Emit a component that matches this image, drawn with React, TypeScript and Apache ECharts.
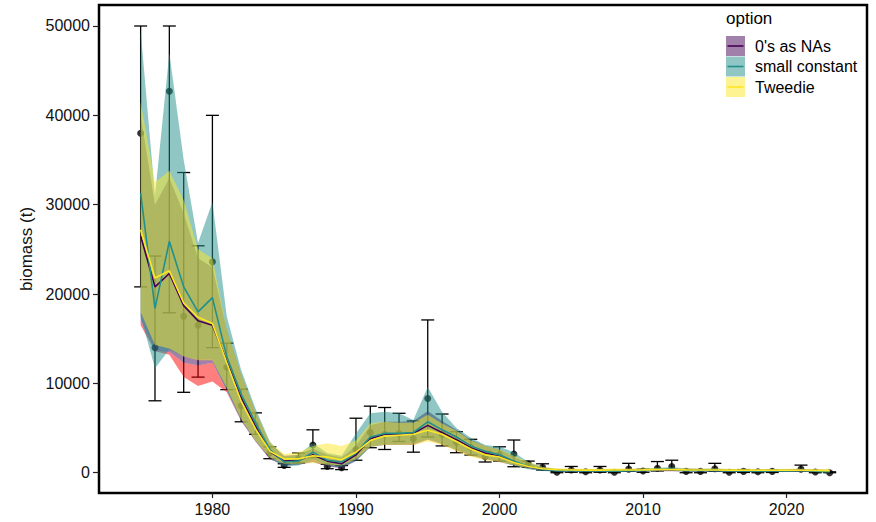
import { useEffect, useRef } from "react";
import * as echarts from "echarts";

const years = [
  1975, 1976, 1977, 1978, 1979, 1980, 1981, 1982, 1983, 1984, 1985, 1986, 1987, 1988, 1989,
  1990, 1991, 1992, 1993, 1994, 1995, 1996, 1997, 1998, 1999, 2000, 2001, 2002, 2003, 2004,
  2005, 2006, 2007, 2008, 2009, 2010, 2011, 2012, 2013, 2014, 2015, 2016, 2017, 2018, 2019,
  2020, 2021, 2022, 2023,
];

// observed survey biomass and its error bars
const observed = [
  38000, 14000, 42700, 17500, 16500, 23600, 11800, 7500, 5400, 2200, 800, 1600, 3100, 700, 550,
  2600, 4500, 4300, 4400, 3800, 8300, 4300, 3400, 2850, 1800, 2000, 2100, 1000, 600, 50,
  300, 100, 300, 50, 400, 200, 500, 700, 150, 150, 450, 50, 150, 100, 150,
  null, 400, 80, 0,
];
const observedLo = [
  20800, 8050, 17900, 9000, 10700, 14000, 9300, 5700, 4300, 1570, 600, 1100, 1700, 450, 350,
  1400, 2800, 2600, 3500, 2300, 4000, 3000, 2240, 1980, 1200, 1300, 670, 600, 300, 0,
  50, 0, 50, 0, 150, 50, 200, 300, 0, 0, 150, 0, 30, 0, 30,
  null, 200, 0, 0,
];
const observedHi = [
  50000, 24250, 50000, 33600, 25400, 40000, 14500, 9350, 6700, 2900, 1000, 2200, 4800, 950, 800,
  6100, 7450, 7300, 6650, 5800, 17100, 6570, 4590, 3740, 2400, 2900, 3660, 1300, 1000, 150,
  700, 250, 700, 150, 1050, 400, 1250, 1400, 300, 300, 1050, 200, 350, 250, 300,
  null, 850, 200, 100,
];

// option: 0's as NAs
const naMid = [
  26500, 20800, 22300, 18700, 17000, 16500, 12500, 8400, 5200, 2400, 1300, 1400, 2000, 1300, 1000,
  2000, 3800, 4300, 4300, 4400, 5300, 4500, 3700, 2800, 2200, 1850, 1200, 650, 400, 260,
  240, 220, 220, 220, 250, 260, 300, 320, 270, 260, 260, 230, 220, 210, 210,
  220, 230, 200, 170,
];
const naLo = [
  17000, 13600, 13500, 12300, 12000, 12300, 9200, 5800, 3500, 1500, 800, 900, 1200, 700, 500,
  1300, 2900, 3100, 3100, 3100, 3700, 3200, 2500, 1900, 1500, 1200, 800, 450, 250, 130,
  120, 100, 100, 100, 120, 130, 160, 170, 130, 120, 120, 100, 90, 80, 80,
  90, 100, 80, 60,
];
const naHi = [
  40000, 30000, 33000, 29000, 24000, 23000, 16000, 11000, 6800, 3300, 1900, 2000, 2700, 2000, 1700,
  3000, 5300, 5700, 5700, 5800, 6900, 5800, 4800, 3700, 3000, 2600, 1800, 1100, 600, 420,
  400, 380, 380, 380, 420, 430, 480, 500, 440, 430, 430, 390, 380, 370, 370,
  390, 400, 370, 340,
];

// option: small constant
const scMid = [
  31300, 18400, 25900, 20800, 18000, 19600, 13000, 8800, 5600, 2600, 1200, 1300, 2300, 1400, 1200,
  2200, 4000, 4400, 4400, 4500, 5700, 4800, 4000, 3000, 2400, 2000, 1300, 700, 400, 220,
  220, 200, 200, 180, 230, 250, 330, 380, 260, 250, 260, 200, 190, 180, 190,
  200, 240, 170, 120,
];
const scLo = [
  17500, 11700, 13800, 13000, 12700, 12700, 9300, 6000, 3700, 1700, 700, 800, 1500, 800, 600,
  1300, 2900, 3200, 3200, 3300, 3800, 3300, 2600, 2000, 1600, 1300, 800, 400, 200, 100,
  100, 80, 80, 70, 110, 120, 180, 210, 120, 110, 120, 80, 70, 60, 70,
  80, 110, 60, 30,
];
const scHi = [
  49500, 31000, 47000, 35000, 25700, 30300, 17500, 11500, 7200, 3500, 1800, 2000, 3300, 2200, 1900,
  4400, 6650, 6830, 6650, 5900, 9600, 6800, 5000, 3900, 3100, 2900, 2300, 1200, 650, 400,
  400, 380, 380, 360, 420, 450, 560, 620, 460, 450, 460, 380, 370, 360, 370,
  380, 440, 350, 300,
];

// option: Tweedie
const twMid = [
  27200, 21800, 22600, 19000, 17400, 16700, 12300, 8000, 4900, 2400, 1550, 1550, 1900, 1750, 1450,
  2300, 3600, 4100, 4200, 4300, 4750, 4300, 3500, 2650, 2000, 1750, 1150, 700, 450, 330,
  300, 290, 290, 300, 310, 320, 340, 340, 320, 310, 310, 290, 280, 270, 270,
  270, 270, 250, 230,
];
const twLo = [
  18000, 14300, 13900, 13000, 12600, 12600, 9500, 6000, 3600, 1700, 1000, 1000, 1100, 900, 800,
  1500, 2900, 3100, 3100, 3100, 3500, 3100, 2400, 1800, 1400, 1200, 850, 500, 300, 200,
  180, 170, 170, 180, 190, 200, 210, 210, 200, 190, 190, 170, 160, 150, 150,
  150, 150, 130, 110,
];
const twHi = [
  41500, 32500, 33800, 30500, 25000, 24000, 16000, 11000, 6800, 3400, 2100, 2300, 3000, 3300, 3000,
  3600, 5500, 5700, 5600, 5600, 6500, 5500, 4700, 3600, 3000, 2600, 1900, 1200, 650, 500,
  470, 450, 450, 460, 480, 490, 520, 520, 490, 480, 480, 450, 440, 430, 430,
  440, 440, 420, 400,
];

// extra red ribbon visible under the lower edge in the early years
const redLo = [
  16500, 13600, 13200, 10700, 9700, 10200, 9000, 5800, 3500, 1500, 800, 900, 1200, 700, 500,
  1300, 2900, 3100, 3100, 3100, 3700, 3200, 2500, 1900, 1500, 1200, 800, 450, 250, 130,
  120, 100, 100, 100, 120, 130, 160, 170, 130, 120, 120, 100, 90, 80, 80,
  90, 100, 80, 60,
];

const yTicks = [0, 10000, 20000, 30000, 40000, 50000];
const xTicks = [1980, 1990, 2000, 2010, 2020];
const legendTitle = "option";
const legendLabels = ["0's as NAs", "small constant", "Tweedie"];
const lineColors = ["#440154", "#21908C", "#FDE725"];
const fillColors = ["rgba(68,1,84,0.5)", "rgba(33,144,140,0.5)", "rgba(253,231,37,0.5)"];

const FONT = "'Liberation Sans', Arial, Helvetica, sans-serif";

function bandSeries(name: string, lo: number[], hi: number[], fill: string) {
  return {
    type: "custom",
    name,
    z: 2,
    silent: true,
    data: years.map((y, i) => [y, lo[i], hi[i]]),
    encode: { x: 0, y: [1, 2] },
    renderItem: (params: any, api: any) => {
      if (params.dataIndex !== 0) return null;
      const top = years.map((y, i) => api.coord([y, hi[i]]));
      const bot = years.map((y, i) => api.coord([y, lo[i]])).reverse();
      return {
        type: "polygon",
        shape: { points: top.concat(bot) },
        style: { fill, stroke: "none" },
      };
    },
  };
}

function lineSeries(name: string, vals: number[], color: string) {
  return {
    type: "line",
    name,
    z: 4,
    silent: true,
    symbol: "none",
    data: years.map((y, i) => [y, vals[i]]),
    lineStyle: { color, width: 1.6 },
  };
}

export default function App() {
  const ref = useRef<HTMLDivElement>(null);

  useEffect(() => {
    document.body.style.margin = "0";
    if (!ref.current) return;
    const chart = echarts.init(ref.current, undefined, { renderer: "svg" });

    const errData: number[][] = [];
    const ptData: number[][] = [];
    years.forEach((y, i) => {
      if (observed[i] === null) return;
      errData.push([y, observedLo[i] as number, observedHi[i] as number]);
      ptData.push([y, observed[i] as number]);
    });

    const legendGraphics: any[] = [
      {
        type: "text",
        x: 726,
        y: 10,
        style: { text: legendTitle, fontSize: 17, fontFamily: FONT, fill: "#000" },
      },
    ];
    legendLabels.forEach((lab, i) => {
      const top = 36 + i * 20.5;
      legendGraphics.push(
        {
          type: "rect",
          shape: { x: 726, y: top, width: 19, height: 20 },
          style: { fill: fillColors[i], stroke: "none" },
        },
        {
          type: "line",
          shape: { x1: 727.5, y1: top + 10, x2: 743.5, y2: top + 10 },
          style: { stroke: lineColors[i], lineWidth: 1.6 },
        },
        {
          type: "text",
          x: 755,
          y: top + 10,
          style: {
            text: lab,
            fontSize: 16,
            fontFamily: FONT,
            fill: "#000",
            verticalAlign: "middle",
          },
        }
      );
    });

    const option: any = {
      animation: false,
      grid: {
        left: 99,
        top: 5,
        right: 9,
        bottom: 29,
        show: true,
        borderColor: "#000",
        borderWidth: 2.5,
        backgroundColor: "#fff",
      },
      xAxis: {
        type: "value",
        min: 1972.1,
        max: 2025.6,
        splitLine: { show: false },
        axisLine: { show: false, onZero: false },
        axisTick: {
          show: true,
          customValues: xTicks,
          length: 5,
          lineStyle: { color: "#222", width: 1.2 },
        },
        axisLabel: {
          customValues: xTicks,
          formatter: (v: number) => String(v),
          fontSize: 16,
          fontFamily: FONT,
          color: "#111",
          margin: 8,
        },
      },
      yAxis: {
        type: "value",
        min: -2270,
        max: 52350,
        name: "biomass (t)",
        nameLocation: "middle",
        nameGap: 64,
        nameTextStyle: { fontSize: 17, fontFamily: FONT, color: "#111" },
        splitLine: { show: false },
        axisLine: { show: false, onZero: false },
        axisTick: {
          show: true,
          customValues: yTicks,
          length: 6,
          lineStyle: { color: "#222", width: 1.2 },
        },
        axisLabel: {
          customValues: yTicks,
          formatter: (v: number) => String(v),
          fontSize: 16,
          fontFamily: FONT,
          color: "#111",
          margin: 9,
        },
      },
      graphic: legendGraphics,
      series: [
        {
          type: "custom",
          name: "errorbars",
          z: 1,
          silent: true,
          data: errData,
          encode: { x: 0, y: [1, 2] },
          renderItem: (params: any, api: any) => {
            const x = api.value(0);
            const pLo = api.coord([x, api.value(1)]);
            const pHi = api.coord([x, api.value(2)]);
            const hw = 6.5;
            const st = { stroke: "#000", lineWidth: 1.3 };
            return {
              type: "group",
              children: [
                { type: "line", shape: { x1: pLo[0], y1: pLo[1], x2: pHi[0], y2: pHi[1] }, style: st },
                { type: "line", shape: { x1: pHi[0] - hw, y1: pHi[1], x2: pHi[0] + hw, y2: pHi[1] }, style: st },
                { type: "line", shape: { x1: pLo[0] - hw, y1: pLo[1], x2: pLo[0] + hw, y2: pLo[1] }, style: st },
              ],
            };
          },
        },
        {
          type: "scatter",
          name: "observed",
          z: 1,
          silent: true,
          symbol: "circle",
          symbolSize: 7,
          itemStyle: { color: "#000" },
          data: ptData,
        },
        bandSeries("red", redLo, naLo, "rgba(255,0,0,0.5)"),
        bandSeries(legendLabels[0], naLo, naHi, fillColors[0]),
        bandSeries(legendLabels[1], scLo, scHi, fillColors[1]),
        bandSeries(legendLabels[2], twLo, twHi, fillColors[2]),
        lineSeries(legendLabels[0], naMid, lineColors[0]),
        lineSeries(legendLabels[1], scMid, lineColors[1]),
        lineSeries(legendLabels[2], twMid, lineColors[2]),
      ],
    };

    chart.setOption(option);
    return () => chart.dispose();
  }, []);

  return <div ref={ref} style={{ width: 876, height: 522 }} />;
}
